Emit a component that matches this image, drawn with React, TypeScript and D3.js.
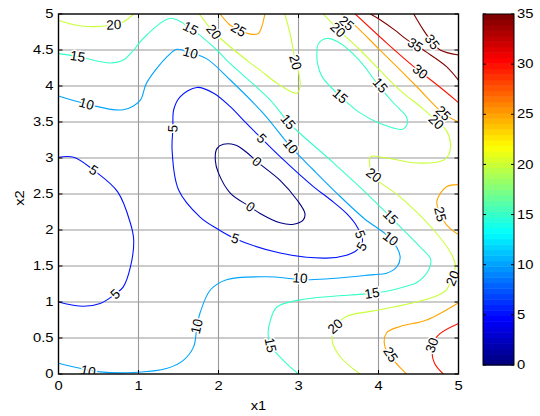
import React from "react";
import * as d3 from "d3";

// ---- data (x1, x2 coordinates of each contour line) ----
const levels = [0, 5, 10, 15, 20, 25, 30, 35];
const xTicks = [0, 1, 2, 3, 4, 5];
const yTicks = [0, 0.5, 1, 1.5, 2, 2.5, 3, 3.5, 4, 4.5, 5];
const cbTicks = [0, 5, 10, 15, 20, 25, 30, 35];

const c0 = [[1.98,3.13],[2.06,3.19],[2.21,3.18],[2.35,3.08],[2.48,2.95],[2.77,2.69],[2.98,2.42],[3.08,2.23],[3.06,2.14],[2.94,2.08],[2.77,2.1],[2.52,2.23],[2.4,2.32],[2.15,2.51],[2.0,2.79],[1.96,2.97]];
const c5a = [[0,3.01],[0.19,3.01],[0.44,2.83],[0.74,2.53],[0.9,2.09],[0.94,1.86],[0.9,1.49],[0.81,1.21],[0.71,1.11],[0.52,0.98],[0.31,0.94],[0,1.0]];
const c5b = [[1.73,3.98],[1.94,3.9],[2.15,3.71],[2.35,3.48],[2.54,3.27],[2.77,3.02],[3.19,2.6],[3.4,2.42],[3.6,2.23],[3.73,2.05],[3.8,1.85],[3.73,1.72],[3.6,1.65],[3.35,1.61],[2.77,1.68],[2.21,1.88],[1.98,2.02],[1.77,2.18],[1.5,2.56],[1.42,3.11],[1.43,3.41],[1.44,3.67],[1.52,3.85]];
const c10 = [[0,3.86],[0.35,3.75],[0.81,3.67],[1.02,3.8],[1.1,4.04],[1.36,4.41],[1.48,4.51],[1.65,4.46],[1.85,4.38],[2.15,4.08],[2.56,3.62],[2.9,3.16],[3.19,2.83],[3.48,2.51],[3.82,2.16],[4.15,1.88],[4.27,1.63],[4.23,1.49],[4.1,1.4],[3.94,1.38],[3.15,1.31],[2.6,1.35],[2.1,1.31],[1.9,1.17],[1.77,0.85],[1.73,0.66],[1.69,0.38],[1.56,0.19],[1.36,0.08],[0.94,0.02],[0.52,0.03],[0,0.15]];
const c15a = [[0,4.45],[0.24,4.41],[0.65,4.32],[0.81,4.36],[0.94,4.5],[1.06,4.66],[1.4,4.94],[1.65,4.8],[1.98,4.5],[2.1,4.36],[2.65,3.8],[2.87,3.5],[3.02,3.34],[3.44,2.93],[3.85,2.51],[4.15,2.18],[4.56,1.72],[4.65,1.6],[4.63,1.45],[4.48,1.27],[4.35,1.22],[4.1,1.15],[3.92,1.12],[3.02,1.03],[2.73,0.93],[2.65,0.75],[2.62,0.56],[2.65,0.4],[2.81,0.19],[3.0,0.0]];
const c15b = [[3.25,4.59],[3.35,4.66],[3.48,4.62],[3.75,4.37],[4.0,4.01],[4.2,3.75],[4.35,3.57],[4.36,3.48],[4.3,3.4],[4.02,3.48],[3.75,3.64],[3.52,3.86],[3.3,4.12],[3.24,4.3],[3.23,4.47]];
const c20a = [[0,4.91],[0.31,4.83],[0.69,4.85],[0.81,4.89],[0.94,5]];
const c20b = [[1.76,5],[1.94,4.75],[2.35,4.36],[2.52,4.22],[2.73,4.04],[2.98,3.9],[3.02,4.0],[3.0,4.2],[2.96,4.36],[2.9,4.7],[2.83,5]];
const c20c = [[3.31,5],[3.48,4.8],[3.77,4.5],[4.27,3.94],[4.55,3.69],[4.72,3.52],[4.85,3.38],[4.9,3.2],[4.88,3.05],[4.81,2.97],[4.48,2.93],[4.1,3.0],[3.9,3.02],[3.89,2.9],[3.92,2.76],[4.27,2.46],[4.69,2.0],[4.92,1.65],[4.96,1.5],[4.92,1.35],[4.85,1.17],[4.69,1.07],[4.19,0.93],[3.9,0.87],[3.6,0.8],[3.46,0.66],[3.42,0.47],[3.52,0.24],[3.77,0]];
const c25a = [[2.02,5],[2.14,4.85],[2.25,4.78],[2.4,4.72],[2.5,4.73],[2.54,4.82],[2.58,5]];
const c25b = [[3.54,5],[3.7,4.85],[4.0,4.52],[4.47,4.0],[4.81,3.62],[5,3.5]];
const c25c = [[5,2.63],[4.85,2.6],[4.73,2.4],[4.77,2.22],[4.85,2.07],[4.98,1.95],[5,1.94]];
const c25d = [[5,0.99],[4.6,0.75],[4.27,0.66],[4.1,0.57],[4.08,0.38],[4.19,0.19],[4.35,0]];
const c30a = [[3.71,5],[4.1,4.6],[4.44,4.27],[4.75,4.0],[5,3.77]];
const c30b = [[5,0.7],[4.73,0.52],[4.67,0.33],[4.7,0.15],[4.81,0]];
const c35a = [[3.9,5],[4.02,4.92],[4.2,4.78],[4.36,4.64],[4.6,4.47],[4.85,4.27],[5,4.08]];
const c35b = [[4.44,5],[4.56,4.78],[4.67,4.61],[4.77,4.5],[5,4.43]];

const contours = [
  { level: 0, closed: true, pts: c0 },
  { level: 5, closed: false, pts: c5a },
  { level: 5, closed: true, pts: c5b },
  { level: 10, closed: false, pts: c10 },
  { level: 15, closed: false, pts: c15a },
  { level: 15, closed: true, pts: c15b },
  { level: 20, closed: false, pts: c20a },
  { level: 20, closed: false, pts: c20b },
  { level: 20, closed: false, pts: c20c },
  { level: 25, closed: false, pts: c25a },
  { level: 25, closed: false, pts: c25b },
  { level: 25, closed: false, pts: c25c },
  { level: 25, closed: false, pts: c25d },
  { level: 30, closed: false, pts: c30a },
  { level: 30, closed: false, pts: c30b },
  { level: 35, closed: false, pts: c35a },
  { level: 35, closed: false, pts: c35b },
];

// contour labels: [level, x1, x2]
const labels = [
  [20,0.69,4.85],[15,0.24,4.41],[10,0.35,3.75],[5,0.44,2.83],[5,0.71,1.11],[10,0.37,0.04],
  [10,1.73,0.66],[5,1.43,3.41],[10,1.65,4.46],[15,1.65,4.8],[20,1.94,4.75],[25,2.25,4.78],
  [20,2.96,4.33],[25,3.6,4.87],[20,3.49,4.78],[35,4.46,4.57],[35,4.67,4.61],[30,4.52,4.2],
  [15,4.02,4.01],[15,3.52,3.86],[25,4.81,3.62],[20,4.72,3.5],[20,3.94,2.76],[15,2.87,3.5],
  [5,2.54,3.27],[10,2.9,3.16],[0,2.48,2.95],[0,2.4,2.32],[5,2.21,1.88],[15,4.15,2.18],
  [10,4.15,1.88],[5,3.77,1.94],[5,3.79,1.77],[10,3.02,1.33],[15,3.92,1.12],[20,4.93,1.33],
  [15,2.65,0.4],[20,3.46,0.66],[25,4.15,0.27],[30,4.67,0.4],[25,4.77,2.22],
];

// ---- layout ----
const W = 540, H = 416;
const L = 58.5, R = 458.5, T = 14, B = 374;
const CBX0 = 483, CBX1 = 514, CBT = 14, CBB = 365;
const FONT = "'Liberation Sans', Arial, Helvetica, sans-serif";
const SX = 1.18; // horizontal stretch of the axis text

const xs = d3.scaleLinear().domain([0, 5]).range([L, R]);
const ys = d3.scaleLinear().domain([0, 5]).range([B, T]);
const cs = d3.scaleLinear().domain([0, 35]).range([CBB, CBT]);

function jet(t: number) {
  const c = (v: number) => Math.max(0, Math.min(1, v));
  const r = c(1.5 - Math.abs(4 * t - 3));
  const g = c(1.5 - Math.abs(4 * t - 2));
  const b = c(1.5 - Math.abs(4 * t - 1));
  return d3.rgb(r * 255, g * 255, b * 255).formatHex();
}
const levelColor = (v: number) => jet((v - levels[0]) / (levels[levels.length - 1] - levels[0]));

const lineOpen = d3.line<number[]>().x(d => xs(d[0])).y(d => ys(d[1])).curve(d3.curveCatmullRom.alpha(0.5));
const lineClosed = d3.line<number[]>().x(d => xs(d[0])).y(d => ys(d[1])).curve(d3.curveCatmullRomClosed.alpha(0.5));

function labelAngle(level: number, lx: number, ly: number) {
  const px = xs(lx), py = ys(ly);
  let best = Infinity, ang = 0;
  contours.filter(c => c.level === level).forEach(c => {
    const pts = c.pts.map(p => [xs(p[0]), ys(p[1])]);
    const n = c.closed ? pts.length : pts.length - 1;
    for (let i = 0; i < n; i++) {
      const a = pts[i], b = pts[(i + 1) % pts.length];
      const dx = b[0] - a[0], dy = b[1] - a[1];
      const len2 = dx * dx + dy * dy || 1;
      let t = ((px - a[0]) * dx + (py - a[1]) * dy) / len2;
      t = Math.max(0, Math.min(1, t));
      const qx = a[0] + t * dx, qy = a[1] + t * dy;
      const d = (qx - px) ** 2 + (qy - py) ** 2;
      if (d < best) { best = d; ang = Math.atan2(dy, dx) * 180 / Math.PI; }
    }
  });
  if (ang > 90) ang -= 180;
  if (ang <= -90) ang += 180;
  return ang;
}

function Txt(props: { x: number; y: number; anchor?: string; baseline?: string; rot?: number; children: any }) {
  const { x, y, anchor = "start", baseline = "auto", rot = 0, children } = props;
  return (
    <text transform={`translate(${x},${y}) rotate(${rot}) scale(${SX},1)`} textAnchor={anchor as any} dominantBaseline={baseline as any}>
      {children}
    </text>
  );
}

export default function App() {
  const nBands = 64;
  const bands = d3.range(nBands);
  return (
    <svg width={W} height={H} style={{ position: "absolute", left: 0, top: 0, background: "#fff" }} fontFamily={FONT}>
      <defs>
        <clipPath id="plotclip"><rect x={L} y={T} width={R - L} height={B - T} /></clipPath>
      </defs>
      <rect x={0} y={0} width={W} height={H} fill="#fff" />
      {/* grid */}
      <g stroke="#9a9a9a" strokeWidth={1.1}>
        {xTicks.slice(1, -1).map(v => <line key={"gx" + v} x1={xs(v)} x2={xs(v)} y1={T} y2={B} />)}
        {yTicks.slice(1, -1).map(v => <line key={"gy" + v} x1={L} x2={R} y1={ys(v)} y2={ys(v)} />)}
      </g>
      {/* contours */}
      <g clipPath="url(#plotclip)" fill="none" strokeWidth={1.1}>
        {contours.map((c, i) => (
          <path key={"c" + i} d={(c.closed ? lineClosed : lineOpen)(c.pts) || ""} stroke={levelColor(c.level)} />
        ))}
      </g>
      {/* contour labels */}
      <g clipPath="url(#plotclip)" fontSize={13.5} fill="#000">
        {labels.map((l, i) => {
          const a = labelAngle(l[0], l[1], l[2]);
          return (
            <text key={"l" + i} x={0} y={0} transform={`translate(${xs(l[1])},${ys(l[2])}) rotate(${a})`}
              textAnchor="middle" dominantBaseline="central" stroke="#fff" strokeWidth={3}
              paintOrder="stroke" strokeLinejoin="round">{l[0]}</text>
          );
        })}
      </g>
      {/* frame and ticks */}
      <g stroke="#000" strokeWidth={1}>
        <rect x={L} y={T} width={R - L} height={B - T} fill="none" strokeWidth={1.4} />
        {xTicks.map(v => <line key={"tb" + v} x1={xs(v)} x2={xs(v)} y1={B} y2={B - 4} />)}
        {xTicks.map(v => <line key={"tt" + v} x1={xs(v)} x2={xs(v)} y1={T} y2={T + 4} />)}
        {yTicks.map(v => <line key={"tl" + v} x1={L} x2={L + 4} y1={ys(v)} y2={ys(v)} />)}
        {yTicks.map(v => <line key={"tr" + v} x1={R} x2={R - 4} y1={ys(v)} y2={ys(v)} />)}
      </g>
      <g fontSize={12.5} fill="#000">
        {xTicks.map(v => <Txt key={"xl" + v} x={xs(v)} y={B + 16} anchor="middle">{v}</Txt>)}
        {yTicks.map(v => <Txt key={"yl" + v} x={L - 5} y={ys(v)} anchor="end" baseline="central">{v}</Txt>)}
        <Txt x={(L + R) / 2} y={410} anchor="middle">x1</Txt>
        <Txt x={24} y={(T + B) / 2 + 4} anchor="middle" rot={-90}>x2</Txt>
      </g>
      {/* colorbar */}
      <g>
        {bands.map(i => {
          const v0 = (i * 35) / nBands, v1 = ((i + 1) * 35) / nBands;
          return <rect key={"cb" + i} x={CBX0} width={CBX1 - CBX0} y={cs(v1)} height={cs(v0) - cs(v1) + 0.5} fill={jet(i / (nBands - 1))} />;
        })}
        <rect x={CBX0} y={CBT} width={CBX1 - CBX0} height={CBB - CBT} fill="none" stroke="#000" strokeWidth={1} />
        <g stroke="#000" strokeWidth={1}>
          {cbTicks.map(v => <line key={"cbl" + v} x1={CBX0} x2={CBX0 + 3} y1={cs(v)} y2={cs(v)} />)}
          {cbTicks.map(v => <line key={"cbr" + v} x1={CBX1} x2={CBX1 - 3} y1={cs(v)} y2={cs(v)} />)}
        </g>
        <g fontSize={12.5} fill="#000">
          {cbTicks.map(v => <Txt key={"cbt" + v} x={CBX1 + 3} y={cs(v)} baseline="central">{v}</Txt>)}
        </g>
      </g>
    </svg>
  );
}
